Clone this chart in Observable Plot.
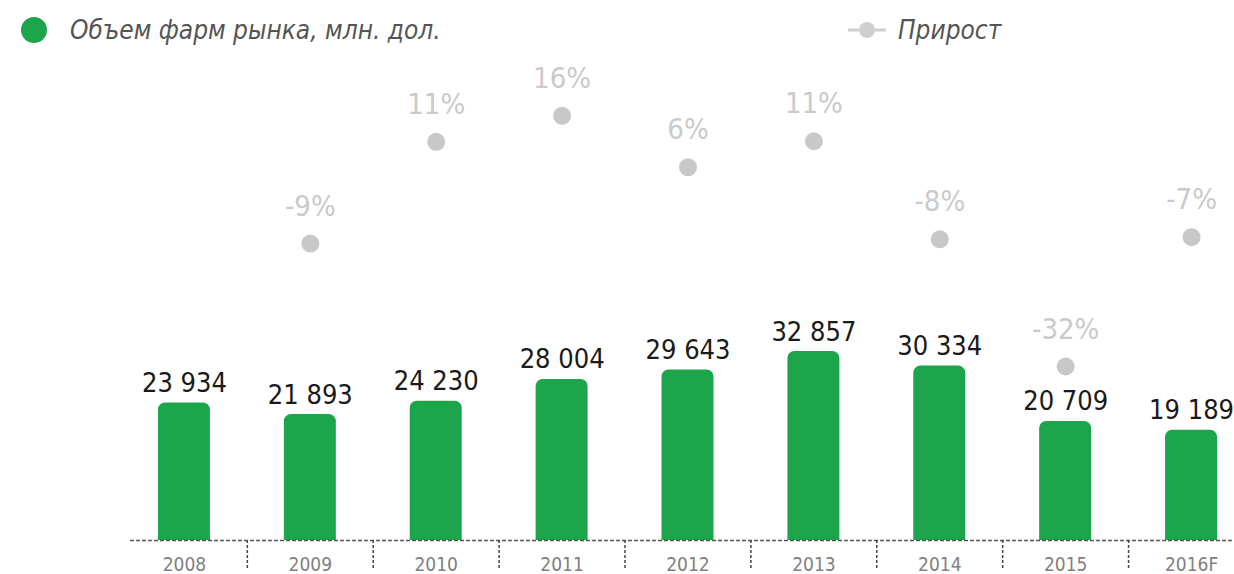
<!DOCTYPE html>
<html><head><meta charset="utf-8">
<script src="https://cdn.jsdelivr.net/npm/d3@7"></script>
<script src="https://cdn.jsdelivr.net/npm/@observablehq/plot@0.6"></script>
<style>
body{margin:0;background:#fff;}
#wrap{position:relative;width:1234px;height:574px;overflow:hidden;}
#legend{position:relative;height:58px;font-family:"DejaVu Sans Condensed","DejaVu Sans",sans-serif;font-style:italic;color:#555;font-size:26px;}
#legend .item{position:absolute;top:15px;display:flex;align-items:center;}
#overlay{position:absolute;left:0;top:58px;}
</style></head>
<body>
<div id="wrap">
  <div id="legend">
    <div class="item" style="left:20px"><svg width="28" height="28" style="margin-right:22px"><circle cx="14" cy="14" r="13" fill="#1ca54b"/></svg><span>Объем фарм рынка, млн. дол.</span></div>
    <div class="item" style="left:848px"><svg width="40" height="20" style="margin-right:10px"><line x1="0" x2="38" y1="10" y2="10" stroke="#cfcfcf" stroke-width="3"/><circle cx="19" cy="10" r="8" fill="#cfcfcf"/></svg><span>Прирост</span></div>
  </div>
  <div id="chart"></div>
  <div id="overlay"></div>
</div>
<script>
const years = ["2008","2009","2010","2011","2012","2013","2014","2015","2016F"];
const volumes = [23934, 21893, 24230, 28004, 29643, 32857, 30334, 20709, 19189];
const growthYears = ["2009","2010","2011","2012","2013","2014","2015","2016F"];
const growth = [-8.5, 10.7, 15.6, 5.9, 10.8, -7.7, -31.7, -7.3];
const growthLabels = ["-9%","11%","16%","6%","11%","-8%","-32%","-7%"];

const bars = years.map((y, i) => ({year: y, value: volumes[i]}));
const pts = growthYears.map((y, i) => ({year: y, g: growth[i], label: growthLabels[i]}));
const fmt = v => d3.format(",")(v).replace(/,/g, " ");

const W = 1234, H = 516;
const xScale = {domain: years, range: [121, 1254], paddingInner: 0.587, paddingOuter: 0.2935, align: 0.5, round: false};
const font = "'DejaVu Sans Condensed','DejaVu Sans',sans-serif";

const chart = Plot.plot({
  width: W, height: H,
  marginLeft: 130, marginRight: 0, marginTop: 252, marginBottom: 34,
  style: {background: "transparent", fontFamily: font, fontSize: "19px"},
  x: {...xScale, axis: null, label: null},
  y: {domain: [0, 40000], axis: null},
  marks: [
    Plot.barY(bars, {x: "year", y: "value", fill: "#1ca54b", ry1: 7}),
    Plot.ruleY([0], {stroke: "#555", strokeWidth: 1.5, strokeDasharray: "4,2"}),
    Plot.text(bars, {x: "year", y: "value", text: d => fmt(d.value), lineAnchor: "bottom", dy: -11,
      fontSize: 27, fill: "#1a1a1a", fontFamily: font}),
    Plot.axisX({tickSize: 0, tickPadding: 17, fontSize: 19, fill: "#808080", fontFamily: font, tickFormat: d => d, label: null}),
    Plot.axisX(years.slice(1), {tickSize: 30, dx: -63, tickFormat: () => "", label: null, stroke: "#444", strokeWidth: 1.5, strokeDasharray: "3,2"})
  ]
});
document.getElementById("chart").appendChild(chart);

const overlay = Plot.plot({
  width: W, height: H,
  marginLeft: 130, marginRight: 0, marginTop: 0, marginBottom: 0,
  style: {background: "transparent", fontFamily: font},
  x: {...xScale, axis: null},
  y: {domain: [-40, 20], range: [352, 34], axis: null},
  marks: [
    Plot.dot(pts, {x: "year", y: "g", r: 9, fill: "#c8c8c8"}),
    Plot.text(pts, {x: "year", y: "g", text: "label", lineAnchor: "bottom", dy: -28,
      fontSize: 29, fill: "#cacaca", fontFamily: font})
  ]
});
document.getElementById("overlay").appendChild(overlay);
</script>
</body></html>
